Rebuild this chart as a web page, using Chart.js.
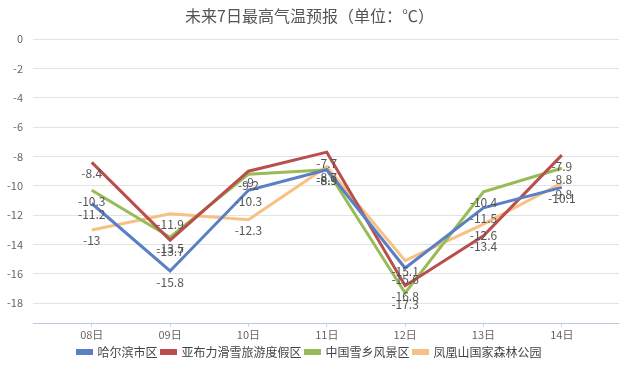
<!DOCTYPE html>
<html>
<head>
<meta charset="utf-8">
<script src="https://cdn.jsdelivr.net/npm/chart.js@4/dist/chart.umd.min.js"></script>
<style>
  html, body { margin: 0; padding: 0; background: #fff; }
  #wrap { width: 619px; height: 368px; }
</style>
</head>
<body>
<div id="wrap"><canvas id="myChart" width="619" height="368"></canvas></div>
<script>
var days = ["08日", "09日", "10日", "11日", "12日", "13日", "14日"]
var harbin = [-11.2, -15.8, -10.3, -8.9, -15.6, -11.5, -10.1]
var yabuli = [-8.4, -13.7, -9, -7.7, -16.8, -13.4, -7.9]
var snowTown = [-10.3, -13.5, -9.2, -8.9, -17.3, -10.4, -8.8]
var fenghuang = [-13, -11.9, -12.3, -8.7, -15.1, -12.6, -9.8]

var font = "'Noto Sans CJK SC', 'Noto Sans', sans-serif"

// draws the value under each point, like the original data labels
var valueLabels = {
    id: 'valueLabels',
    afterDatasetsDraw: function(chart){
        var ctx = chart.ctx
        ctx.save()
        ctx.font = "12px " + font
        ctx.fillStyle = "#555"
        ctx.textAlign = "center"
        ctx.textBaseline = "middle"
        chart.data.datasets.forEach(function(ds, i){
            var meta = chart.getDatasetMeta(i)
            meta.data.forEach(function(pt, j){
                ctx.fillText(String(ds.data[j].y), pt.x, pt.y + 11)
            })
        })
        ctx.restore()
    }
}

function makeSet(label, values, color){
    return {
        label: label,
        data: values.map(function(v, i){ return { x: i, y: v } }),
        borderColor: color,
        backgroundColor: color,
        borderWidth: 3,
        pointRadius: 0,
        tension: 0,
        fill: false
    }
}

var ctx = document.getElementById("myChart").getContext("2d")
var myChart = new Chart(ctx, {
    type: 'line',
    data: {
        datasets: [
            makeSet("哈尔滨市区", harbin, "#5a7fc6"),
            makeSet("亚布力滑雪旅游度假区", yabuli, "#b94f4c"),
            makeSet("中国雪乡风景区", snowTown, "#97bb55"),
            makeSet("凤凰山国家森林公园", fenghuang, "#f8c184")
        ]
    },
    plugins: [valueLabels],
    options: {
        responsive: false,
        animation: false,
        layout: { padding: { left: 0, right: 0, top: 0, bottom: 0 } },
        plugins: {
            title: {
                display: true,
                text: "未来7日最高气温预报（单位：℃）",
                color: "#555",
                font: { family: font, size: 16, weight: 'normal' },
                padding: { top: 6, bottom: 14 }
            },
            legend: {
                position: 'bottom',
                labels: {
                    color: "#444",
                    font: { family: font, size: 12 },
                    boxWidth: 14,
                    boxHeight: 3,
                    padding: 4
                }
            },
            tooltip: { enabled: false }
        },
        scales: {
            x: {
                type: 'linear',
                min: -0.75,
                max: 6.73,
                afterBuildTicks: function(scale){
                    scale.ticks = days.map(function(d, i){ return { value: i } })
                },
                grid: { display: true, drawOnChartArea: false, tickLength: 3, color: "#c8d4e0" },
                border: { color: "#b8cadb" },
                ticks: {
                    color: "#666",
                    font: { family: font, size: 11 },
                    padding: 1,
                    callback: function(v){ return days[v] }
                }
            },
            y: {
                min: -19.4,
                max: 0,
                afterBuildTicks: function(scale){
                    scale.ticks = scale.ticks.filter(function(t){ return t.value % 2 == 0 })
                },
                afterFit: function(scale){ scale.width = 33 },
                ticks: {
                    stepSize: 2,
                    color: "#666",
                    font: { family: font, size: 11 },
                    padding: 10
                },
                grid: { color: "#e3e3e3", drawTicks: false },
                border: { display: false }
            }
        }
    }
})
</script>
</body>
</html>
